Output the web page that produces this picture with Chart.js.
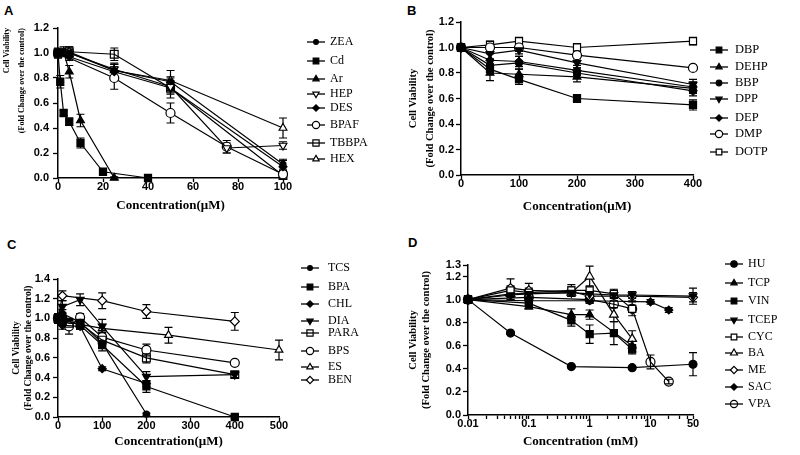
<!DOCTYPE html>
<html>
<head>
<meta charset="utf-8">
<script src="https://cdn.jsdelivr.net/npm/chart.js@4.4.1/dist/chart.umd.min.js"></script>
<style>
  html, body { margin: 0; padding: 0; background: #fff; }
  #fig { position: relative; width: 800px; height: 455px; overflow: hidden; }
  #fig canvas { position: absolute; }
  .tag { position: absolute; font: bold 13px Arial, "Liberation Sans", sans-serif; color: #000; line-height: 13px; }
</style>
</head>
<body>
<div id="fig">
  <div class="tag" style="left:4px;top:4px">A</div>
  <div class="tag" style="left:407px;top:4px">B</div>
  <div class="tag" style="left:7px;top:238px">C</div>
  <div class="tag" style="left:408px;top:236px">D</div>
  <canvas id="cA" width="400" height="228" style="left:0;top:0"></canvas>
  <canvas id="cB" width="400" height="228" style="left:400px;top:0"></canvas>
  <canvas id="cC" width="400" height="227" style="left:0;top:228px"></canvas>
  <canvas id="cD" width="400" height="227" style="left:400px;top:228px"></canvas>
</div>
<script>
"use strict";

// ---------- panel A (µM) ----------
const A_NAMES = ["ZEA", "Cd", "Ar", "HEP", "DES", "BPAF", "TBBPA", "HEX"];
const A_X = [
  [0, 5, 25, 50, 100],
  [0, 1, 2.5, 5, 10, 20, 40],
  [0, 2.5, 5, 10, 25],
  [0, 5, 25, 50, 75, 100],
  [0, 5, 25, 50, 100],
  [0, 25, 50, 75, 100],
  [0, 5, 25, 50, 100],
  [0, 5, 25, 50, 100]
];
const A_Y = [
  [0.99, 1.0, 0.86, 0.77, 0.11],
  [1.0, 0.77, 0.52, 0.45, 0.28, 0.05, 0.0],
  [1.0, 1.01, 0.85, 0.46, 0.0],
  [1.0, 1.0, 0.87, 0.73, 0.24, 0.26],
  [1.0, 0.97, 0.85, 0.72, 0.09],
  [1.0, 0.80, 0.52, 0.25, 0.03],
  [1.0, 1.01, 0.99, 0.72, 0.02],
  [1.0, 1.01, 0.86, 0.78, 0.40]
];
const A_ERR = [
  [0.03, 0.03, 0.05, 0.04, 0.04],
  [0.02, 0.05, 0.02, 0.03, 0.04, 0.02, 0.01],
  [0.03, 0.04, 0.05, 0.05, 0.01],
  [0.03, 0.03, 0.05, 0.05, 0.04, 0.03],
  [0.04, 0.03, 0.06, 0.08, 0.05],
  [0.03, 0.09, 0.08, 0.05, 0.03],
  [0.02, 0.04, 0.05, 0.05, 0.02],
  [0.03, 0.04, 0.05, 0.08, 0.08]
];
const A_X_TICKS = [0, 20, 40, 60, 80, 100];
const A_Y_TICKS = [0, 0.2, 0.4, 0.6, 0.8, 1.0, 1.2];

// ---------- panel B (µM) ----------
const B_NAMES = ["DBP", "DEHP", "BBP", "DPP", "DEP", "DMP", "DOTP"];
const B_X = [0, 50, 100, 200, 400];
const B_Y = [
  [1.0, 0.83, 0.75, 0.60, 0.55],
  [1.0, 0.80, 0.79, 0.77, 0.68],
  [1.0, 0.86, 0.88, 0.80, 0.66],
  [1.0, 0.95, 0.98, 0.88, 0.71],
  [1.0, 0.90, 0.89, 0.82, 0.69],
  [1.0, 1.0, 1.0, 0.94, 0.84],
  [1.0, 1.02, 1.05, 1.0, 1.05]
];
const B_ERR = [
  [0.03, 0.04, 0.04, 0.03, 0.04],
  [0.03, 0.06, 0.04, 0.04, 0.04],
  [0.03, 0.05, 0.05, 0.04, 0.04],
  [0.03, 0.04, 0.03, 0.04, 0.04],
  [0.03, 0.05, 0.04, 0.04, 0.04],
  [0.02, 0.03, 0.03, 0.03, 0.02],
  [0.02, 0.03, 0.03, 0.03, 0.03]
];
const B_X_TICKS = [0, 100, 200, 300, 400];
const B_Y_TICKS = [0, 0.2, 0.4, 0.6, 0.8, 1.0, 1.2];

// ---------- panel C (µM) ----------
const C_NAMES = ["TCS", "BPA", "CHL", "DIA", "PARA", "BPS", "ES", "BEN"];
const C_X = [
  [0, 10, 50, 100, 200],
  [0, 10, 50, 100, 200, 400],
  [0, 10, 50, 100, 200],
  [0, 10, 50, 100, 200, 400],
  [0, 10, 25, 50, 100, 200, 400],
  [0, 10, 25, 50, 100, 200, 400],
  [0, 10, 50, 100, 250, 500],
  [0, 10, 100, 200, 400]
];
const C_Y = [
  [1.0, 1.05, 0.96, 0.75, 0.03],
  [1.0, 1.0, 0.93, 0.73, 0.31, 0.0],
  [1.0, 0.93, 0.92, 0.49, 0.34],
  [1.0, 1.12, 1.19, 0.92, 0.41, 0.43],
  [1.0, 0.97, 0.95, 0.95, 0.78, 0.60, 0.43],
  [1.0, 1.0, 0.92, 1.01, 0.81, 0.68, 0.55],
  [1.0, 0.98, 0.94, 0.90, 0.83, 0.68],
  [1.0, 1.23, 1.18, 1.07, 0.97]
];
const C_ERR = [
  [0.05, 0.04, 0.03, 0.04, 0.01],
  [0.04, 0.05, 0.04, 0.06, 0.06, 0.02],
  [0.04, 0.04, 0.03, 0.02, 0.03],
  [0.05, 0.06, 0.06, 0.07, 0.05, 0.03],
  [0.04, 0.04, 0.03, 0.03, 0.05, 0.05, 0.03],
  [0.05, 0.05, 0.08, 0.04, 0.05, 0.06, 0.02],
  [0.04, 0.03, 0.03, 0.04, 0.08, 0.10],
  [0.04, 0.05, 0.08, 0.07, 0.09]
];
const C_X_TICKS = [0, 100, 200, 300, 400, 500];
const C_Y_TICKS = [0, 0.2, 0.4, 0.6, 0.8, 1.0, 1.2, 1.4];

// ---------- panel D (mM, log) ----------
const D_NAMES = ["HU", "TCP", "VIN", "TCEP", "CYC", "BA", "ME", "SAC", "VPA"];
const D_X = [
  [0.01, 0.05, 0.5, 5, 50],
  [0.01, 0.1, 0.5, 1, 5],
  [0.01, 0.1, 0.5, 1, 2.5, 5],
  [0.01, 0.05, 0.1, 0.5, 1, 2.5, 5, 50],
  [0.01, 0.05, 0.1, 0.5, 1, 2.5, 5],
  [0.01, 0.05, 0.5, 1, 2.5, 5],
  [0.01, 0.05, 0.1, 0.5, 1, 5, 50],
  [0.01, 0.1, 1, 10, 20],
  [0.01, 0.1, 1, 2.5, 5, 10, 20]
];
const D_Y = [
  [1.0, 0.71, 0.42, 0.41, 0.44],
  [1.0, 0.94, 0.87, 0.87, 0.60],
  [1.0, 0.97, 0.82, 0.70, 0.71, 0.57],
  [1.0, 1.04, 1.05, 1.06, 1.05, 1.04, 1.04, 1.03],
  [1.0, 1.08, 1.06, 1.08, 1.08, 1.05, 0.92],
  [1.0, 1.05, 1.06, 1.20, 0.87, 0.66],
  [1.0, 1.10, 1.08, 1.07, 1.03, 1.03, 1.02],
  [1.0, 0.99, 0.99, 0.98, 0.91],
  [1.0, 1.02, 1.0, 0.96, 0.92, 0.46, 0.29]
];
const D_ERR = [
  [0.03, 0.01, 0.01, 0.01, 0.10],
  [0.03, 0.02, 0.05, 0.04, 0.05],
  [0.03, 0.03, 0.05, 0.08, 0.10, 0.04],
  [0.03, 0.04, 0.03, 0.03, 0.03, 0.03, 0.03, 0.07],
  [0.03, 0.04, 0.04, 0.05, 0.04, 0.04, 0.06],
  [0.03, 0.05, 0.03, 0.09, 0.06, 0.07],
  [0.03, 0.08, 0.06, 0.04, 0.04, 0.04, 0.04],
  [0.02, 0.02, 0.02, 0.02, 0.02],
  [0.03, 0.03, 0.03, 0.03, 0.03, 0.06, 0.02]
];
const D_X_TICKS = [0.01, 0.02, 0.03, 0.04, 0.05, 0.06, 0.07, 0.08, 0.09,
  0.1, 0.2, 0.3, 0.4, 0.5, 0.6, 0.7, 0.8, 0.9,
  1, 2, 3, 4, 5, 6, 7, 8, 9, 10, 20, 30, 40, 50];
const D_X_LABELS = [0.01, 0.1, 1, 10, 50];
const D_Y_TICKS = [0, 0.2, 0.4, 0.6, 0.8, 1.0, 1.2, 1.3];

// marker styles: [shape, fill, radius]
const A_STYLE = [["circle", "black", 3], ["rect", "black", 5], ["triangle", "black", 4.5], ["triangleDown", "white", 4.5],
  ["rectRot", "black", 4], ["circle", "white", 4.5], ["rect", "none", 5.5], ["triangle", "white", 4.5]];
const B_STYLE = [["rect", "black", 5], ["triangle", "black", 4.5], ["circle", "black", 3.5], ["triangleDown", "black", 4.5],
  ["rectRot", "black", 4], ["circle", "white", 4.5], ["rect", "white", 5]];
const C_STYLE = [["circle", "black", 3], ["rect", "black", 5], ["rectRot", "black", 4], ["triangleDown", "black", 4.5],
  ["rect", "none", 5.5], ["circle", "white", 4.5], ["triangle", "white", 4.5], ["rectRot", "white", 4.5]];
const D_STYLE = [["circle", "black", 4], ["triangle", "black", 4.5], ["rect", "black", 5], ["triangleDown", "black", 4.5],
  ["rect", "white", 5], ["triangle", "white", 5], ["rectRot", "white", 4.5], ["rectRot", "black", 4], ["circle", "none", 4.5]];

const SERIF = '"Liberation Serif", "Times New Roman", Times, serif';
const SANS = '"Liberation Sans Narrow", "Arial Narrow", Arial, "Liberation Sans", sans-serif';
const TICK_FONT = { family: SANS, size: 11, weight: "bold" };

// vertical error bars with caps, drawn under the lines/markers
const errorBars = {
  id: "errorBars",
  beforeDatasetsDraw(chart) {
    const ctx = chart.ctx, ys = chart.scales.y;
    ctx.save();
    ctx.strokeStyle = "#000";
    ctx.lineWidth = 1.2;
    chart.data.datasets.forEach((ds, di) => {
      const meta = chart.getDatasetMeta(di);
      (ds.errors || []).forEach((e, i) => {
        if (!e) return;
        const x = meta.data[i].x, v = ds.data[i].y;
        const y1 = ys.getPixelForValue(v + e), y2 = ys.getPixelForValue(v - e);
        ctx.beginPath();
        ctx.moveTo(x, y1); ctx.lineTo(x, y2);
        ctx.moveTo(x - 4, y1); ctx.lineTo(x + 4, y1);
        ctx.moveTo(x - 4, y2); ctx.lineTo(x + 4, y2);
        ctx.stroke();
      });
    });
    ctx.restore();
  }
};

// legend as a column of "—o— NAME" rows at the right of each panel
function sideLegend(L) {
  return {
    id: "sideLegend",
    afterDraw(chart) {
      const ctx = chart.ctx;
      ctx.save();
      chart.data.datasets.forEach((ds, i) => {
        const y = L.rows[i];
        ctx.strokeStyle = "#000";
        ctx.lineWidth = 1.3;
        ctx.beginPath();
        ctx.moveTo(L.x - 9, y); ctx.lineTo(L.x + 9, y);
        ctx.stroke();
        ctx.fillStyle = ds.pointBackgroundColor;
        ctx.lineWidth = 1.2;
        Chart.helpers.drawPoint(ctx, {
          pointStyle: ds.pointStyle, rotation: ds.pointRotation,
          radius: ds.pointRadius * 0.8, borderWidth: 1.2
        }, L.x, y);
        ctx.fillStyle = "#000";
        ctx.font = L.size + "px " + SERIF;
        ctx.textAlign = "left";
        ctx.textBaseline = "middle";
        ctx.fillText(ds.label, L.textX, y);
      });
      ctx.restore();
    }
  };
}

function makePanel(id, P) {
  const el = document.getElementById(id);
  const W = el.width, H = el.height, a = P.area;
  const datasets = P.names.map((n, i) => {
    const [shape, fill, r] = P.style[i];
    return {
      label: n,
      data: P.xs[i].map((x, j) => ({ x, y: P.ys[i][j] })),
      errors: P.es[i],
      showLine: true,
      tension: 0,
      clip: false,
      borderColor: "#000",
      borderWidth: 1.2,
      pointStyle: shape === "triangleDown" ? "triangle" : shape,
      pointRotation: shape === "triangleDown" ? 180 : 0,
      pointRadius: r,
      pointHoverRadius: r,
      pointBackgroundColor: fill === "none" ? "rgba(0,0,0,0)" : fill === "black" ? "#000" : "#fff",
      pointBorderColor: "#000",
      pointBorderWidth: 1.2
    };
  });

  new Chart(el, {
    type: "scatter",
    data: { datasets },
    plugins: [errorBars, sideLegend(P.legend)],
    options: {
      responsive: false,
      animation: false,
      events: [],
      layout: { padding: { left: 0, top: a.top, right: W - a.right, bottom: 0 } },
      plugins: { legend: { display: false }, tooltip: { enabled: false } },
      scales: {
        x: {
          type: P.log ? "logarithmic" : "linear",
          min: P.xMin, max: P.xMax,
          afterBuildTicks: (s) => { s.ticks = P.xTicks.map((v) => ({ value: v })); },
          afterFit: (s) => { s.height = H - a.bottom; },
          grid: { drawOnChartArea: false, drawTicks: true, tickLength: 4, tickColor: "#000", tickWidth: 1.3 },
          border: { display: true, color: "#000", width: 1.5 },
          ticks: {
            color: "#000", font: TICK_FONT, padding: -2, maxRotation: 0, autoSkip: false,
            callback: (v) => (P.xLabels ? (P.xLabels.includes(v) ? String(v) : "") : String(v))
          },
          title: {
            display: true, text: P.xTitle, color: "#000",
            font: { family: SERIF, size: 13, weight: "bold", lineHeight: 1.2 },
            padding: { top: 0, bottom: P.xTitlePad }
          }
        },
        y: {
          type: "linear",
          min: 0, max: P.yMax,
          afterBuildTicks: (s) => { s.ticks = P.yTicks.map((v) => ({ value: v })); },
          afterFit: (s) => { s.width = a.left; },
          grid: { drawOnChartArea: false, drawTicks: true, tickLength: 5, tickColor: "#000", tickWidth: 1.3 },
          border: { display: true, color: "#000", width: 1.5 },
          ticks: { color: "#000", font: TICK_FONT, padding: P.yTickPad, callback: (v) => v.toFixed(1) },
          title: {
            display: true, align: P.yTitleAlign,
            text: ["Cell Viability", "(Fold Change over the control)"], color: "#000",
            font: { family: SERIF, size: P.yTitleSize, weight: "bold", lineHeight: P.yTitleLH },
            padding: { top: P.yTitlePad, bottom: 0 }
          }
        }
      }
    }
  });
}

makePanel("cA", {
  names: A_NAMES, xs: A_X, ys: A_Y, es: A_ERR, style: A_STYLE,
  xMin: 0, xMax: 100, xTicks: A_X_TICKS, yMax: 1.2, yTicks: A_Y_TICKS,
  area: { left: 58, right: 283, top: 28, bottom: 178 },
  xTitle: "Concentration(μM)", xTitlePad: 15,
  yTickPad: 4, yTitleAlign: "end", yTitleSize: 8, yTitleLH: 1.85, yTitlePad: 0,
  legend: { x: 316, textX: 330, size: 12, rows: [42, 61, 79, 94, 108, 125, 143, 159] }
});

makePanel("cB", {
  names: B_NAMES, xs: B_NAMES.map(() => B_X), ys: B_Y, es: B_ERR, style: B_STYLE,
  xMin: 0, xMax: 400, xTicks: B_X_TICKS, yMax: 1.2, yTicks: B_Y_TICKS,
  area: { left: 61, right: 293, top: 22, bottom: 175 },
  xTitle: "Concentration(μM)", xTitlePad: 14,
  yTickPad: 2, yTitleAlign: "center", yTitleSize: 10.5, yTitleLH: 1.6, yTitlePad: 5,
  legend: { x: 319, textX: 335, size: 12.5, rows: [50, 67, 83, 99, 118, 134, 152] }
});

makePanel("cC", {
  names: C_NAMES, xs: C_X, ys: C_Y, es: C_ERR, style: C_STYLE,
  xMin: 0, xMax: 500, xTicks: C_X_TICKS, yMax: 1.4, yTicks: C_Y_TICKS,
  area: { left: 58, right: 279, top: 51, bottom: 189 },
  xTitle: "Concentration(μM)", xTitlePad: 6,
  yTickPad: 3, yTitleAlign: "center", yTitleSize: 9.5, yTitleLH: 1.25, yTitlePad: 11,
  legend: { x: 310, textX: 328, size: 12, rows: [40, 59, 76, 93, 105, 123, 139, 152] }
});

makePanel("cD", {
  names: D_NAMES, xs: D_X, ys: D_Y, es: D_ERR, style: D_STYLE, log: true,
  xMin: 0.01, xMax: 50, xTicks: D_X_TICKS, xLabels: D_X_LABELS, yMax: 1.3, yTicks: D_Y_TICKS,
  area: { left: 68, right: 293, top: 37, bottom: 187 },
  xTitle: "Concentration (mM)", xTitlePad: 6,
  yTickPad: 2, yTitleAlign: "center", yTitleSize: 10.5, yTitleLH: 1.2, yTitlePad: 7,
  legend: { x: 334, textX: 348, size: 12, rows: [36, 55, 73, 92, 109, 125, 142, 159, 176] }
});
</script>
</body>
</html>
